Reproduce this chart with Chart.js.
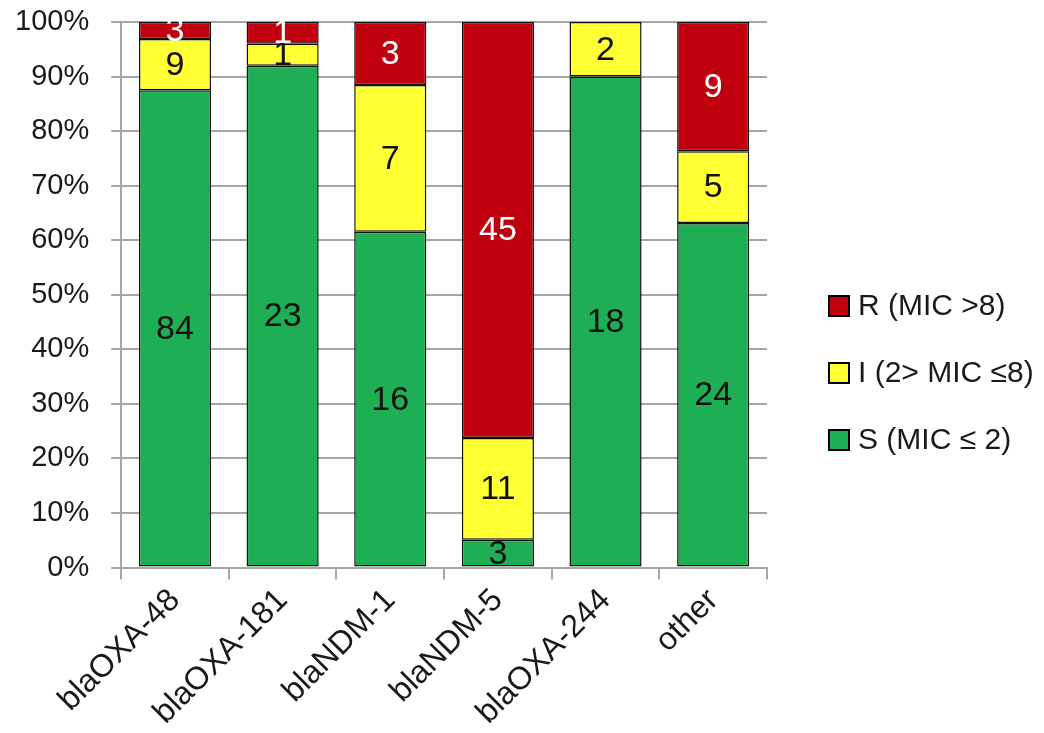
<!DOCTYPE html>
<html>
<head>
<meta charset="utf-8">
<script src="https://cdn.jsdelivr.net/npm/chart.js@4"></script>
<style>
  html, body { margin: 0; padding: 0; background: #fff; }
  #wrap { width: 1044px; height: 733px; position: relative; }
</style>
</head>
<body>
<div id="wrap"><canvas id="chart"></canvas></div>
<script>
const CATEGORIES = ['blaOXA-48', 'blaOXA-181', 'blaNDM-1', 'blaNDM-5', 'blaOXA-244', 'other'];
const S_COUNTS = [84, 23, 16, 3, 18, 24];
const I_COUNTS = [9, 1, 7, 11, 2, 5];
const R_COUNTS = [3, 1, 3, 45, 0, 9];
const Y_TICKS = [0, 10, 20, 30, 40, 50, 60, 70, 80, 90, 100];

const FONT = '"Liberation Sans", Arial, sans-serif';
const TOTALS = CATEGORIES.map((_, i) => S_COUNTS[i] + I_COUNTS[i] + R_COUNTS[i]);
const pct = arr => arr.map((v, i) => v / TOTALS[i] * 100);

// counts printed in the middle of each segment
const segmentLabels = {
  id: 'segmentLabels',
  afterDatasetsDraw(chart) {
    const ctx = chart.ctx;
    ctx.save();
    ctx.font = '34px ' + FONT;
    ctx.textAlign = 'center';
    ctx.textBaseline = 'middle';
    chart.data.datasets.forEach((ds, di) => {
      chart.getDatasetMeta(di).data.forEach((bar, i) => {
        const n = ds.counts[i];
        if (!n) return;
        ctx.fillStyle = ds.labelColor;
        ctx.fillText(String(n), bar.x, (bar.y + bar.base) / 2 + 1);
      });
    });
    ctx.restore();
  }
};

// legend drawn on the right, R on top
const sideLegend = {
  id: 'sideLegend',
  afterDraw(chart) {
    const ctx = chart.ctx;
    const items = chart.data.datasets.slice().reverse();
    const x = 829, y0 = 306, step = 67;
    ctx.save();
    ctx.font = '30px ' + FONT;
    ctx.textBaseline = 'middle';
    items.forEach((ds, k) => {
      const y = y0 + k * step;
      ctx.fillStyle = ds.backgroundColor;
      ctx.fillRect(x, y - 10, 20, 20);
      ctx.strokeStyle = '#000';
      ctx.lineWidth = 2;
      ctx.strokeRect(x, y - 10, 20, 20);
      ctx.fillStyle = '#1a1a1a';
      ctx.fillText(ds.label, x + 29, y + 1);
    });
    ctx.restore();
  }
};

new Chart(document.getElementById('chart'), {
  type: 'bar',
  data: {
    labels: CATEGORIES,
    datasets: [
      { label: 'S (MIC \u2264 2)', data: pct(S_COUNTS), counts: S_COUNTS, backgroundColor: '#1EAE54', labelColor: '#111' },
      { label: 'I (2> MIC \u22648)', data: pct(I_COUNTS), counts: I_COUNTS, backgroundColor: '#FFFF33', labelColor: '#111' },
      { label: 'R (MIC >8)', data: pct(R_COUNTS), counts: R_COUNTS, backgroundColor: '#C0000F', labelColor: '#fff' },
    ].map(d => Object.assign(d, {
      borderColor: '#111', borderWidth: 1.5, borderSkipped: false,
      barPercentage: 0.67, categoryPercentage: 1.0,
    })),
  },
  options: {
    responsive: true,
    maintainAspectRatio: false,
    animation: false,
    layout: { padding: { top: 22, right: 277, left: -7, bottom: -1 } },
    plugins: { legend: { display: false }, tooltip: { enabled: false } },
    scales: {
      x: {
        stacked: true,
        offset: true,
        afterFit: s => { s.paddingLeft = 0; s.paddingRight = 0; },
        grid: { offset: true, drawOnChartArea: false, drawTicks: true, tickLength: 12, color: '#A6A6A6', lineWidth: 2 },
        border: { color: '#A6A6A6', width: 2 },
        ticks: { font: { size: 32, family: FONT }, color: '#1a1a1a', minRotation: 45, maxRotation: 45, padding: 2 },
      },
      y: {
        stacked: true,
        min: 0, max: 100,
        afterFit: s => { s.paddingTop = 0; s.paddingBottom = 0; },
        afterBuildTicks: axis => { axis.ticks = Y_TICKS.map(v => ({ value: v })); },
        grid: { color: '#A6A6A6', lineWidth: 2, tickLength: 10 },
        border: { color: '#A6A6A6', width: 2 },
        ticks: { font: { size: 29, family: FONT }, color: '#1a1a1a', padding: 22, callback: v => v + '%' },
      },
    },
  },
  plugins: [segmentLabels, sideLegend],
});
</script>
</body>
</html>
